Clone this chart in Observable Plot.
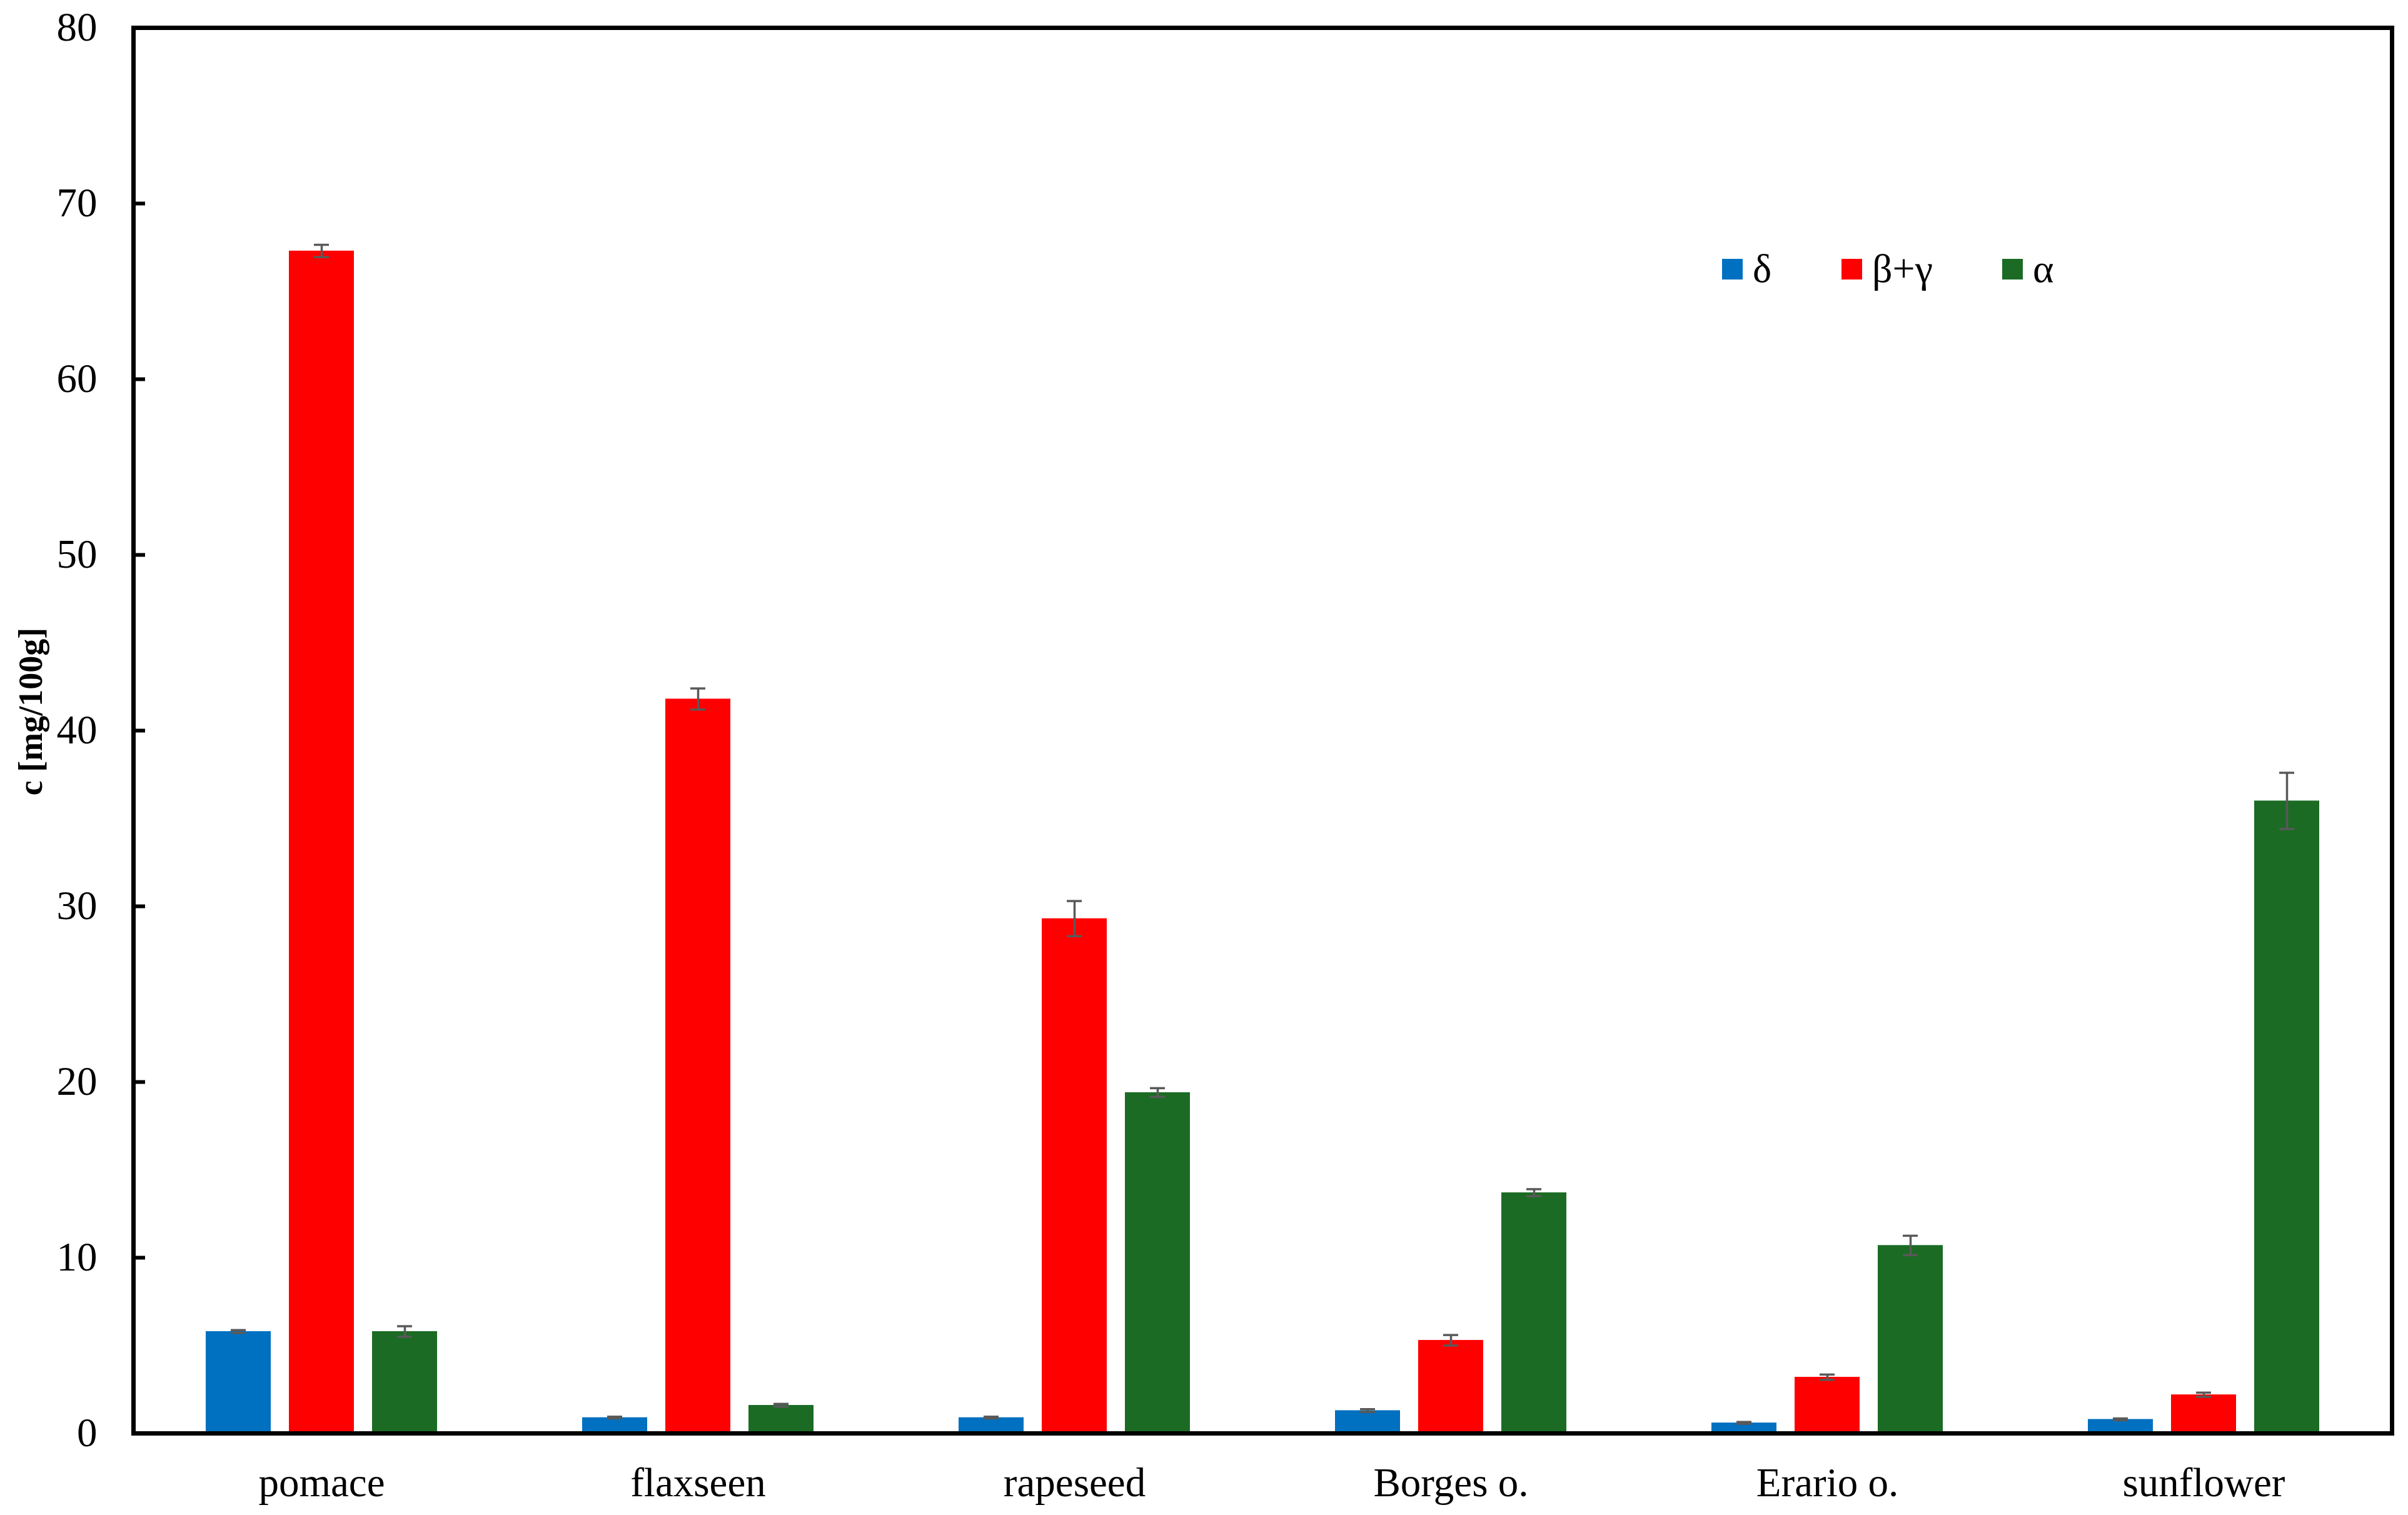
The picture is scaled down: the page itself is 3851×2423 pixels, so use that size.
<!DOCTYPE html>
<html><head><meta charset="utf-8">
<script src="https://cdn.jsdelivr.net/npm/d3@7"></script>
<script src="https://cdn.jsdelivr.net/npm/@observablehq/plot@0.6"></script>
<style>
html,body{margin:0;padding:0;background:#fff;}
#wrap{position:relative;width:3851px;height:2423px;font-family:'Liberation Serif',serif;color:#000;}
#wrap svg{position:absolute;left:0;top:0;}
.leg{position:absolute;top:400px;height:60px;display:flex;align-items:center;font-size:64px;line-height:1;}
.sw{display:inline-block;width:33px;height:33px;margin-right:16px;}
#ylab{position:absolute;left:49px;top:1138px;transform:translate(-50%,-50%) rotate(-90deg);font-size:54px;font-weight:bold;white-space:nowrap;}
</style></head>
<body><div id="wrap"></div>
<script>
const categories = ["pomace", "flaxseen", "rapeseed", "Borges o.", "Erario o.", "sunflower"];
const series = ["δ", "β+γ", "α"];
const deltaValues = [5.8, 0.9, 0.9, 1.3, 0.6, 0.8];
const deltaErrors = [0.08, 0.05, 0.05, 0.08, 0.05, 0.05];
const betaGammaValues = [67.3, 41.8, 29.3, 5.3, 3.2, 2.2];
const betaGammaErrors = [0.35, 0.6, 1.0, 0.3, 0.15, 0.12];
const alphaValues = [5.8, 1.6, 19.4, 13.7, 10.7, 36.0];
const alphaErrors = [0.3, 0.08, 0.25, 0.2, 0.55, 1.6];
const yTicks = [0, 10, 20, 30, 40, 50, 60, 70, 80];
const colors = ["#0070C0", "#FF0000", "#1B6B24"];

const valueSets = [deltaValues, betaGammaValues, alphaValues];
const errorSets = [deltaErrors, betaGammaErrors, alphaErrors];
const data = [];
categories.forEach((c, i) => {
  series.forEach((s, j) => {
    data.push({category: c, series: s, value: valueSets[j][i], err: errorSets[j][i]});
  });
});

const chart = Plot.plot({
  width: 3851,
  height: 2423,
  marginLeft: 212,
  marginRight: 25,
  marginTop: 44,
  marginBottom: 131,
  style: {fontFamily: "'Liberation Serif', serif", fontSize: "64px", color: "#000", background: "transparent", overflow: "visible"},
  fx: {domain: categories, padding: 0, label: null},
  x: {domain: series, paddingInner: 0.216, paddingOuter: 0.856, axis: null},
  y: {domain: [0, 80], axis: null},
  color: {domain: series, range: colors},
  marks: [
    Plot.barY(data, {fx: "category", x: "series", y: "value", fill: "series"}),
    Plot.ruleX(data, {fx: "category", x: "series", y1: d => d.value - d.err, y2: d => d.value + d.err, stroke: "#595959", strokeWidth: 3.5}),
    Plot.tickY(data, {fx: "category", x: "series", y: d => d.value + d.err, stroke: "#595959", strokeWidth: 3.5, inset: 40}),
    Plot.tickY(data, {fx: "category", x: "series", y: d => d.value - d.err, stroke: "#595959", strokeWidth: 3.5, inset: 40}),
    Plot.axisY({ticks: yTicks, tickSize: 0, tickPadding: 58, fontSize: 65, label: null}),
    Plot.axisY({ticks: yTicks.slice(1, -1), tickSize: 19, dx: 19, tickFormat: () => "", stroke: "#000", strokeWidth: 6, label: null}),
    Plot.axisFx({anchor: "bottom", tickSize: 0, tickPadding: 54, fontSize: 65, label: null}),
    Plot.frame({facet: "super", stroke: "#000", strokeWidth: 7})
  ]
});

const wrap = document.getElementById("wrap");
wrap.appendChild(chart);

const ylab = document.createElement("div");
ylab.id = "ylab";
ylab.textContent = "c [mg/100g]";
wrap.appendChild(ylab);

const legendLeft = [2754, 2945, 3202];
series.forEach((s, j) => {
  const item = document.createElement("div");
  item.className = "leg";
  item.style.left = legendLeft[j] + "px";
  const sw = document.createElement("span");
  sw.className = "sw";
  sw.style.background = colors[j];
  const t = document.createElement("span");
  t.textContent = s;
  item.appendChild(sw);
  item.appendChild(t);
  wrap.appendChild(item);
});
</script>
</body></html>
